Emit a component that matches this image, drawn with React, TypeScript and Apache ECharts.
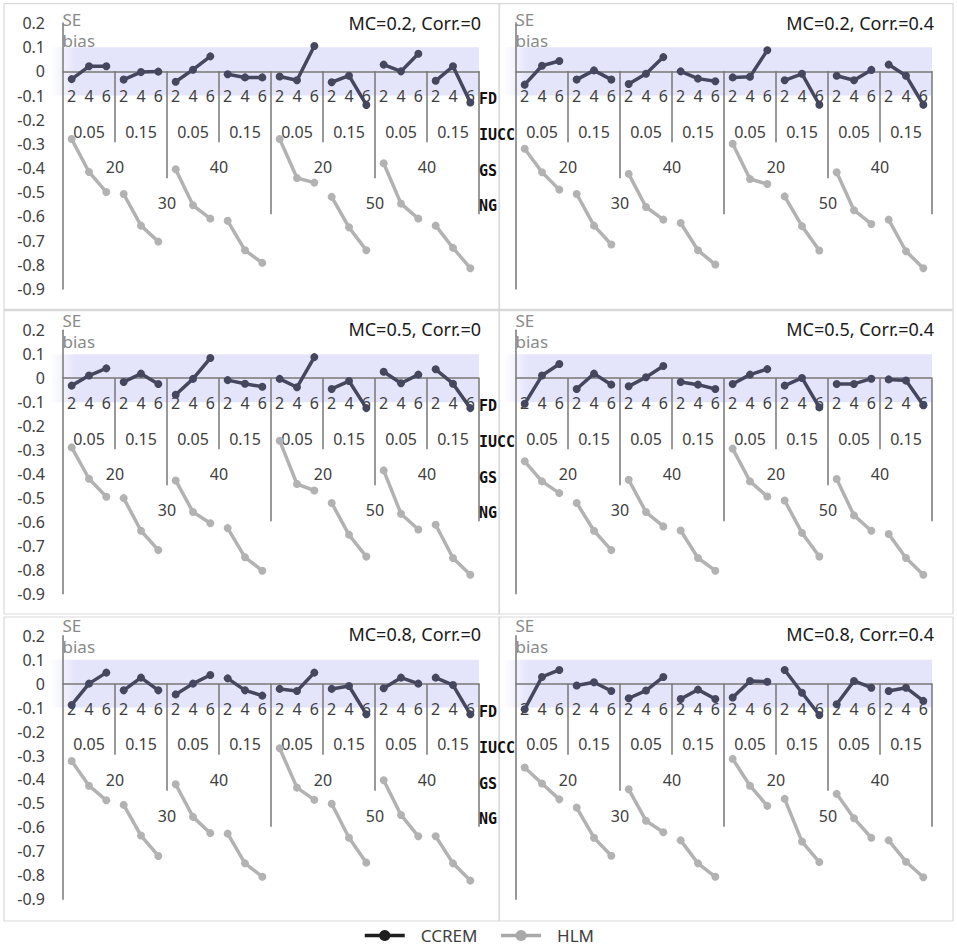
import React, { useEffect, useRef } from "react";
import * as echarts from "echarts";

// ---- Levels of the multi-level category axis ----
const FD_LEVELS = ["2", "4", "6"];
const IUCC_LEVELS = ["0.05", "0.15"];
const GS_LEVELS = ["20", "40"];
const NG_LEVELS = ["30", "50"];
const LEVEL_NAMES = ["FD", "IUCC", "GS", "NG"];
const SERIES_NAMES = ["CCREM", "HLM"];
const BAND = [-0.1, 0.1];
const Y_MIN = -0.9;
const Y_MAX = 0.2;
const Y_STEP = 0.1;

const PANEL_TITLES = [
  "MC=0.2, Corr.=0",
  "MC=0.2, Corr.=0.4",
  "MC=0.5, Corr.=0",
  "MC=0.5, Corr.=0.4",
  "MC=0.8, Corr.=0",
  "MC=0.8, Corr.=0.4",
];

// ---- Values (order: NG > GS > IUCC > FD) ----
const CCREM_P1 = [-0.032, 0.021, 0.021, -0.034, -0.003, -0.001, -0.043, 0.007, 0.062, -0.012, -0.025, -0.025, -0.021, -0.037, 0.105, -0.045, -0.018, -0.139, 0.028, 0.0, 0.073, -0.039, 0.021, -0.129];
const HLM_P1 = [-0.28, -0.416, -0.499, -0.507, -0.638, -0.704, -0.405, -0.554, -0.609, -0.618, -0.74, -0.792, -0.28, -0.441, -0.46, -0.519, -0.645, -0.74, -0.38, -0.547, -0.609, -0.638, -0.73, -0.814];
const CCREM_P2 = [-0.055, 0.023, 0.043, -0.034, 0.004, -0.034, -0.052, -0.01, 0.059, 0.0, -0.03, -0.041, -0.025, -0.022, 0.087, -0.037, -0.01, -0.138, -0.018, -0.037, 0.006, 0.028, -0.018, -0.138];
const HLM_P2 = [-0.32, -0.417, -0.489, -0.507, -0.638, -0.716, -0.424, -0.561, -0.613, -0.627, -0.74, -0.799, -0.299, -0.445, -0.466, -0.517, -0.64, -0.741, -0.417, -0.574, -0.631, -0.613, -0.744, -0.814];
const CCREM_P3 = [-0.031, 0.011, 0.041, -0.016, 0.019, -0.024, -0.069, -0.003, 0.084, -0.008, -0.023, -0.036, -0.003, -0.038, 0.088, -0.045, -0.012, -0.125, 0.027, -0.021, 0.015, 0.037, -0.023, -0.125];
const HLM_P3 = [-0.289, -0.42, -0.495, -0.501, -0.637, -0.718, -0.427, -0.559, -0.606, -0.626, -0.748, -0.804, -0.261, -0.442, -0.469, -0.521, -0.654, -0.745, -0.385, -0.566, -0.632, -0.612, -0.751, -0.821];
const CCREM_P4 = [-0.107, 0.011, 0.059, -0.045, 0.019, -0.027, -0.034, 0.004, 0.051, -0.016, -0.027, -0.045, -0.024, 0.015, 0.038, -0.031, 0.001, -0.122, -0.024, -0.024, -0.002, -0.005, -0.01, -0.113];
const HLM_P4 = [-0.347, -0.431, -0.48, -0.521, -0.637, -0.718, -0.424, -0.559, -0.619, -0.636, -0.751, -0.804, -0.294, -0.431, -0.494, -0.511, -0.646, -0.745, -0.421, -0.573, -0.637, -0.651, -0.751, -0.821];
const CCREM_P5 = [-0.089, 0.0, 0.046, -0.028, 0.025, -0.028, -0.045, 0.0, 0.036, 0.022, -0.028, -0.05, -0.022, -0.031, 0.046, -0.022, -0.01, -0.128, -0.019, 0.025, 0.0, 0.025, -0.006, -0.128];
const HLM_P5 = [-0.323, -0.426, -0.487, -0.506, -0.634, -0.719, -0.42, -0.556, -0.624, -0.626, -0.75, -0.806, -0.27, -0.434, -0.485, -0.501, -0.643, -0.747, -0.403, -0.548, -0.637, -0.637, -0.75, -0.822];
const CCREM_P6 = [-0.107, 0.028, 0.057, -0.008, 0.006, -0.031, -0.061, -0.029, 0.028, -0.064, -0.025, -0.064, -0.058, 0.011, 0.008, 0.057, -0.038, -0.131, -0.086, 0.011, -0.017, -0.031, -0.017, -0.072];
const HLM_P6 = [-0.35, -0.417, -0.483, -0.517, -0.643, -0.718, -0.441, -0.572, -0.62, -0.654, -0.75, -0.806, -0.314, -0.426, -0.51, -0.481, -0.659, -0.745, -0.46, -0.562, -0.643, -0.654, -0.743, -0.808];

const CCREM_VALUES = [CCREM_P1, CCREM_P2, CCREM_P3, CCREM_P4, CCREM_P5, CCREM_P6];
const HLM_VALUES = [HLM_P1, HLM_P2, HLM_P3, HLM_P4, HLM_P5, HLM_P6];

// ---- Layout / style (not data) ----
const FONT = '"Noto Sans", "Open Sans", sans-serif';
const LEVEL_FONT = '"DejaVu Sans Mono", monospace';
const GRID_LEFT = [63, 516];
const GRID_W = 416;
const GRID_TOP = [23, 330.3, 635.7];
const GRID_H = [266, 263.4, 263.6];
const FRAME_X = [[4, 499], [499.5, 953]];
const FRAME_Y = [[3.7, 309.3], [310.7, 614], [617, 921]];
const TITLE_Y = [23, 328.7, 634];
const SE_Y = [19.5, 320.2, 625.2];
const BIAS_Y = [40.5, 341.2, 646.5];
const ROW_OFFSETS = [25, 60.5, 96, 132];
const NAME_OFFSETS = [28, 64, 100, 135];
const CCREM_COLOR = "#45475f";
const HLM_COLOR = "#b2b2b2";
const AXIS_COLOR = "#777777";
const LABEL_COLOR = "#404040";
const BAND_COLOR = "#e4e4fb";

function buildCategories() {
  const cats: string[] = [];
  NG_LEVELS.forEach((ng) =>
    GS_LEVELS.forEach((gs) =>
      IUCC_LEVELS.forEach((iu) =>
        FD_LEVELS.forEach((fd) => cats.push(`${ng}|${gs}|${iu}|${fd}`))
      )
    )
  );
  return cats;
}

function buildOption() {
  const cats = buildCategories();
  const nFD = FD_LEVELS.length;
  const nIU = IUCC_LEVELS.length * nFD;
  const nGS = GS_LEVELS.length * nIU;
  const nCat = cats.length;

  const grid: any[] = [];
  const xAxis: any[] = [];
  const yAxis: any[] = [];
  const series: any[] = [];
  const graphic: any[] = [];

  for (let p = 0; p < PANEL_TITLES.length; p++) {
    const row = Math.floor(p / 2);
    const col = p % 2;
    grid.push({
      left: GRID_LEFT[col],
      top: GRID_TOP[row],
      width: GRID_W,
      height: GRID_H[row],
      containLabel: false,
    });
    xAxis.push({
      gridIndex: p,
      type: "category",
      data: cats,
      boundaryGap: true,
      z: 1,
      axisLine: { onZero: true, lineStyle: { color: AXIS_COLOR, width: 1.5 } },
      axisTick: { show: false },
      splitLine: { show: false },
      axisLabel: { show: false },
    });
    yAxis.push({
      gridIndex: p,
      type: "value",
      min: Y_MIN,
      max: Y_MAX,
      interval: Y_STEP,
      z: 1,
      axisLine: { show: true, onZero: false, lineStyle: { color: AXIS_COLOR, width: 1.5 } },
      axisTick: { show: false },
      splitLine: { show: false },
      axisLabel: {
        show: col === 0,
        margin: 18,
        color: LABEL_COLOR,
        fontSize: 16,
        fontFamily: FONT,
        formatter: (v: number) => (Math.abs(v) < 1e-9 ? "0" : v.toFixed(1)),
      },
    });

    // shaded band
    series.push({
      type: "custom",
      xAxisIndex: p,
      yAxisIndex: p,
      silent: true,
      z: 0,
      data: [[0, 0]],
      renderItem: (params: any, api: any) => {
        const bw = api.size([1, 0])[0];
        const top = api.coord([0, BAND[1]]);
        const bot = api.coord([0, BAND[0]]);
        const x0 = top[0] - bw / 2 - 13;
        const x1 = top[0] - bw / 2 + nCat * bw;
        return {
          type: "rect",
          shape: { x: x0, y: top[1], width: x1 - x0, height: bot[1] - top[1] },
          style: {
            fill: new echarts.graphic.LinearGradient(0, 0, 1, 0, [
              { offset: 0, color: "rgba(228,228,251,0)" },
              { offset: 0.06, color: BAND_COLOR },
              { offset: 1, color: BAND_COLOR },
            ]),
          },
        };
      },
    });

    // multi-level axis decoration
    series.push({
      type: "custom",
      xAxisIndex: p,
      yAxisIndex: p,
      silent: true,
      z: 1,
      data: [[0, 0]],
      renderItem: (params: any, api: any) => {
        const bw = api.size([1, 0])[0];
        const origin = api.coord([0, 0]);
        const y0 = origin[1];
        const bx = (k: number) => origin[0] - bw / 2 + k * bw;
        const children: any[] = [];
        const lineEl = (x: number, len: number) => ({
          type: "line",
          shape: { x1: x, y1: y0, x2: x, y2: y0 + len },
          style: { stroke: AXIS_COLOR, lineWidth: 1.5 },
        });
        for (let k = nFD; k <= nCat; k += nFD) {
          const len = k % nGS === 0 ? 143 : k % nIU === 0 ? 107 : 71;
          children.push(lineEl(bx(k), len));
        }
        const txt = (s: string, x: number, y: number) => ({
          type: "text",
          style: {
            text: s,
            x,
            y,
            align: "center",
            verticalAlign: "middle",
            textAlign: "center",
            textVerticalAlign: "middle",
            fill: LABEL_COLOR,
            font: `16px ${FONT}`,
            lineHeight: 18,
          },
        });
        for (let i = 0; i < nCat; i++) {
          children.push(txt(FD_LEVELS[i % nFD], bx(i) + bw / 2, y0 + ROW_OFFSETS[0]));
        }
        for (let g = 0; g < nCat / nFD; g++) {
          const cx = (bx(g * nFD) + bx((g + 1) * nFD)) / 2;
          children.push(txt(IUCC_LEVELS[g % IUCC_LEVELS.length], cx, y0 + ROW_OFFSETS[1]));
        }
        for (let g = 0; g < nCat / nIU; g++) {
          const cx = (bx(g * nIU) + bx((g + 1) * nIU)) / 2;
          children.push(txt(GS_LEVELS[g % GS_LEVELS.length], cx, y0 + ROW_OFFSETS[2]));
        }
        for (let g = 0; g < nCat / nGS; g++) {
          const cx = (bx(g * nGS) + bx((g + 1) * nGS)) / 2;
          children.push(txt(NG_LEVELS[g % NG_LEVELS.length], cx, y0 + ROW_OFFSETS[3]));
        }
        if (col === 0) {
          LEVEL_NAMES.forEach((nm, i) =>
            children.push({
              type: "text",
              style: {
                text: nm,
                x: bx(nCat),
                y: y0 + NAME_OFFSETS[i],
                align: "left",
                verticalAlign: "middle",
                textAlign: "left",
                textVerticalAlign: "middle",
                fill: "#111111",
                font: `bold 15px ${LEVEL_FONT}`,
                lineHeight: 16,
              },
            })
          );
        }
        return { type: "group", children };
      },
    });

    // data lines, broken per FD group
    const sets = [
      { name: SERIES_NAMES[0], vals: CCREM_VALUES[p], color: CCREM_COLOR },
      { name: SERIES_NAMES[1], vals: HLM_VALUES[p], color: HLM_COLOR },
    ];
    sets.forEach((s) => {
      for (let g = 0; g < nCat / nFD; g++) {
        const data: any[] = [];
        for (let j = 0; j < nFD; j++) {
          const idx = g * nFD + j;
          data.push([idx, s.vals[idx]]);
        }
        series.push({
          name: s.name,
          type: "line",
          xAxisIndex: p,
          yAxisIndex: p,
          z: 3,
          data,
          symbol: "circle",
          symbolSize: 8,
          showSymbol: true,
          color: s.color,
          itemStyle: { color: s.color },
          lineStyle: { color: s.color, width: 3.5 },
        });
      }
    });

    // panel frame, title, SE/bias
    graphic.push({
      type: "rect",
      silent: true,
      z: -10,
      shape: {
        x: FRAME_X[col][0],
        y: FRAME_Y[row][0],
        width: FRAME_X[col][1] - FRAME_X[col][0],
        height: FRAME_Y[row][1] - FRAME_Y[row][0],
      },
      style: { fill: "none", stroke: "#d9d9d9", lineWidth: 1.2 },
    });
    graphic.push({
      type: "text",
      silent: true,
      style: {
        text: PANEL_TITLES[p],
        x: GRID_LEFT[col] + 418,
        y: TITLE_Y[row],
        align: "right",
        verticalAlign: "middle",
        textAlign: "right",
        textVerticalAlign: "middle",
        fill: "#1a1a1a",
        font: `18px ${FONT}`,
        lineHeight: 20,
      },
    });
    [
      { t: "SE", y: SE_Y[row] },
      { t: "bias", y: BIAS_Y[row] },
    ].forEach((o) =>
      graphic.push({
        type: "text",
        silent: true,
        style: {
          text: o.t,
          x: GRID_LEFT[col] - 0.5,
          y: o.y,
          align: "left",
          verticalAlign: "middle",
          textAlign: "left",
          textVerticalAlign: "middle",
          fill: "#8a8a8a",
          font: `17px ${FONT}`,
          lineHeight: 18,
        },
      })
    );
  }

  return {
    animation: false,
    backgroundColor: "#ffffff",
    grid,
    xAxis,
    yAxis,
    series,
    graphic,
    legend: {
      top: 927,
      left: "center",
      padding: 0,
      itemWidth: 40,
      itemHeight: 14,
      itemGap: 22,
      textStyle: { fontSize: 17, color: LABEL_COLOR, fontFamily: FONT, padding: [0, 0, 0, 11] },
      data: [
        { name: SERIES_NAMES[0], itemStyle: { color: "#1f1f1f" }, lineStyle: { color: "#1f1f1f", width: 3.5 } },
        { name: SERIES_NAMES[1], itemStyle: { color: "#a9a9a9" }, lineStyle: { color: "#a9a9a9", width: 3.5 } },
      ],
    },
  };
}

export default function App() {
  const ref = useRef<HTMLDivElement>(null);
  useEffect(() => {
    document.body.style.margin = "0";
    if (!ref.current) return;
    const chart = echarts.init(ref.current, undefined, { renderer: "svg" });
    chart.setOption(buildOption() as any);
    return () => chart.dispose();
  }, []);
  return <div ref={ref} style={{ width: 957, height: 947 }} />;
}
